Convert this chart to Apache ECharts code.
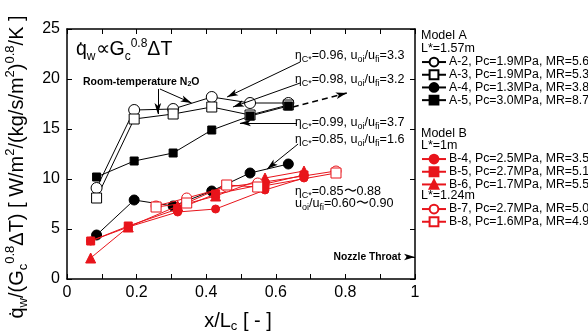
<!DOCTYPE html>
<html><head><meta charset="utf-8">
<script src="https://cdn.jsdelivr.net/npm/echarts@6/dist/echarts.min.js"></script>
<style>html,body{margin:0;padding:0;background:#fff}#c{width:588px;height:334px}</style>
</head><body><div id="c"></div>
<script>
// ---- data ----
const xA = [0.085, 0.193, 0.305, 0.416, 0.526, 0.636];
const A2 = [9.1, 16.9, 17.0, 18.2, 17.6, 17.6];
const A3 = [8.1, 16.0, 16.5, 17.2, 16.4, 17.4];
const A4 = [4.4, 7.9, 7.3, 8.8, 10.6, 11.5];
const A5 = [10.2, 11.8, 12.6, 14.9, 16.3, 17.3];
const xB1 = [0.068, 0.176, 0.318, 0.427, 0.569, 0.681];
const B4 = [3.8, 5.2, 6.7, 7.0, 8.9, 10.1];
const B5 = [3.8, 5.3, 7.0, 8.5, 9.5, 10.4];
const B6 = [2.1, 5.2, 7.3, 8.3, 10.1, 10.8];
const xB2 = [0.256, 0.344, 0.459, 0.548, 0.773];
const B7 = [7.3, 8.1, 9.2, 9.6, 10.8];
const B8 = [7.2, 7.6, 9.4, 9.2, 10.6];
const xTicks = [0, 0.2, 0.4, 0.6, 0.8, 1];
const yTicks = [0, 5, 10, 15, 20, 25];
const legendNames = {
  'A-2':'A-2, Pc=1.9MPa, MR=5.6','A-3':'A-3, Pc=1.9MPa, MR=5.3','A-4':'A-4, Pc=1.3MPa, MR=3.8','A-5':'A-5, Pc=3.0MPa, MR=8.7',
  'B-4':'B-4, Pc=2.5MPa, MR=3.5','B-5':'B-5, Pc=2.7MPa, MR=5.1','B-6':'B-6, Pc=1.7MPa, MR=5.5',
  'B-7':'B-7, Pc=2.7MPa, MR=5.0','B-8':'B-8, Pc=1.6MPa, MR=4.9'
};
// annotation arrows in data coordinates [x1,y1,x2,y2]
const arrows = [
  [0.670,21.7,0.460,18.2],
  [0.670,19.6,0.477,17.2],
  [0.661,15.6,0.497,15.6],
  [0.664,13.5,0.575,11.0],
  [0.261,19.0,0.261,16.5],
  [0.267,19.0,0.358,17.6],
  [0.975,2.2,1.0,2.2]
];
const dashedArrow = [0.649,17.2,0.804,18.6];

const RED = '#e8141b';
const FONT = 'Liberation Sans, Arial, sans-serif';
const pairs = (xs, ys) => xs.map((x,i)=>[x, ys[i]]);

function ser(key, xs, ys, color, symbol, size, filled) {
  return {
    name: legendNames[key], type: 'line', data: pairs(xs, ys),
    symbol: symbol, symbolSize: size, showAllSymbol: true,
    lineStyle: {color: color, width: 1},
    itemStyle: {color: filled ? color : '#fff', borderColor: color, borderWidth: 1},
    emphasis: {disabled: true}, z: color === RED ? 4 : 3
  };
}

const series = [
  ser('A-2', xA, A2, '#000', 'circle', 11, false),
  ser('A-3', xA, A3, '#000', 'rect', 10, false),
  ser('A-4', xA, A4, '#000', 'circle', 10, true),
  ser('A-5', xA, A5, '#000', 'rect', 8, true),
  ser('B-4', xB1, B4, RED, 'circle', 8, true),
  ser('B-5', xB1, B5, RED, 'rect', 8, true),
  ser('B-6', xB1, B6, RED, 'triangle', 10, true),
  ser('B-7', xB2, B7, RED, 'circle', 10, false),
  ser('B-8', xB2, B8, RED, 'rect', 10, false),
  {
    type: 'line', data: [], silent: true,
    markLine: {
      silent: true, animation: false, symbol: ['none','arrow'], symbolSize: [5,11],
      label: {show: false}, lineStyle: {color: '#000', width: 1, type: 'solid'},
      emphasis: {disabled: true},
      data: arrows.map(a => [{coord:[a[0],a[1]]},{coord:[a[2],a[3]]}]).concat([
        [{coord:[dashedArrow[0],dashedArrow[1]], lineStyle:{type:[6,4], width:1.5}},
         {coord:[dashedArrow[2],dashedArrow[3]]}]
      ])
    }
  }
];

const legendCommon = {
  orient: 'vertical', left: 421, padding: 0, itemWidth: 24, itemHeight: 11, itemGap: 0,
  textStyle: {fontFamily: FONT, fontSize: 12.3, color: '#000', lineHeight: 12.7, padding: [0,0,0,-2]},
  selectedMode: false
};

const tickAxisCommon = {
  axisLine: {show: true, onZero: false, lineStyle: {color: '#000', width: 1.5}},
  axisTick: {show: true, inside: true, length: 5, lineStyle: {color: '#000', width: 1}},
  splitLine: {show: false}
};

const rt = {
  n: {fontFamily: FONT, fontSize: 12.6, color: '#000', lineHeight: 16, verticalAlign: 'middle'},
  s: {fontFamily: FONT, fontSize: 9, color: '#000', lineHeight: 9, verticalAlign: 'bottom'},
  e: {fontFamily: FONT, fontSize: 12, color: '#000', lineHeight: 16, verticalAlign: 'middle'}
};
function etaText(x, y, c, u) {
  return {type:'text', x:x, y:y, style:{
    text: '{e|η}{s|C*}{n|=' + c + ', u}{s|oi}{n|/u}{s|fi}{n|=' + u + '}',
    rich: rt, verticalAlign: 'middle', align: 'left'}};
}

const option = {
  animation: false,
  backgroundColor: '#fff',
  grid: {left: 67, right: 173, top: 29, bottom: 55, containLabel: false},
  xAxis: [
    Object.assign({type:'value', min:0, max:1, interval:0.2, position:'bottom',
      axisLabel: {show:true, fontFamily: FONT, fontSize: 16, color:'#000', margin: 6,
        customValues: xTicks, formatter: v => String(v)},
      minorTick: {show:true, splitNumber:2, length:5, lineStyle:{color:'#000', width:1}}}, tickAxisCommon),
    Object.assign({type:'value', min:0, max:1, interval:0.2, position:'top',
      axisLabel: {show:false},
      minorTick: {show:true, splitNumber:2, length:5, lineStyle:{color:'#000', width:1}}}, tickAxisCommon)
  ],
  yAxis: [
    Object.assign({type:'value', min:0, max:25, interval:5, position:'left',
      axisLabel: {show:true, fontFamily: FONT, fontSize: 16, color:'#000', margin: 7,
        customValues: yTicks}}, tickAxisCommon),
    Object.assign({type:'value', min:0, max:25, interval:5, position:'right',
      axisLabel: {show:false}}, tickAxisCommon)
  ],
  legend: [
    Object.assign({top: 55.7, data: [legendNames['A-2'],legendNames['A-3'],legendNames['A-4'],legendNames['A-5']]}, legendCommon),
    Object.assign({top: 152.7, data: [legendNames['B-4'],legendNames['B-5'],legendNames['B-6']]}, legendCommon),
    Object.assign({top: 202.7, data: [legendNames['B-7'],legendNames['B-8']]}, legendCommon)
  ],
  series: series,
  graphic: [
    // y axis title (rotated)
    {type:'text', x: 17, y: 167, rotation: Math.PI/2, style: {
      text: '{n|q̇}{sub|w}{n|/(G}{sub|c}{sup|0.8}{n|ΔT) [ W/m}{sup|2}{n|/(kg/s/m}{sup|2}{n|)}{sup|0.8}{n|/K ]}',
      align: 'center', verticalAlign: 'middle',
      rich: {
        n: {fontFamily: FONT, fontSize: 20, color:'#000', lineHeight: 26, verticalAlign: 'middle'},
        sub: {fontFamily: FONT, fontSize: 13, color:'#000', lineHeight: 13, verticalAlign: 'bottom'},
        sup: {fontFamily: FONT, fontSize: 13, color:'#000', lineHeight: 13, verticalAlign: 'top'}
      }}},
    // x axis title
    {type:'text', x: 238, y: 321, style: {
      text: '{n|x/L}{sub|c}{n| [ - ]}', align:'center', verticalAlign:'middle',
      rich: {
        n: {fontFamily: FONT, fontSize: 20, color:'#000', lineHeight: 24, verticalAlign: 'middle'},
        sub: {fontFamily: FONT, fontSize: 13, color:'#000', lineHeight: 13, verticalAlign: 'bottom'}
      }}},
    // formula
    {type:'text', x: 76, y: 50, style: {
      text: '{n|q̇}{sub|w}{n|∝G}{sub|c}{sup|0.8}{n|ΔT}', align:'left', verticalAlign:'middle',
      rich: {
        n: {fontFamily: FONT, fontSize: 19.5, color:'#000', lineHeight: 25, verticalAlign: 'middle'},
        sub: {fontFamily: FONT, fontSize: 12, color:'#000', lineHeight: 12, verticalAlign: 'bottom'},
        sup: {fontFamily: FONT, fontSize: 12, color:'#000', lineHeight: 12, verticalAlign: 'top'}
      }}},
    {type:'text', x: 83, y: 82, style: {
      text: '{b|Room-temperature N}{s|2}{b|O}', align:'left', verticalAlign:'middle',
      rich: {
        b: {fontFamily: FONT, fontSize: 10.5, fontWeight:'bold', color:'#000', lineHeight: 12, verticalAlign:'middle'},
        s: {fontFamily: FONT, fontSize: 7, fontWeight:'bold', color:'#000', lineHeight: 7, verticalAlign:'bottom'}
      }}},
    etaText(295, 56, '0.96', '3.3'),
    etaText(295, 80, '0.98', '3.2'),
    etaText(295, 123, '0.99', '3.7'),
    etaText(295, 140, '0.85', '1.6'),
    {type:'text', x: 295, y: 192, style:{text:'{e|η}{s|C*}{n|=0.85〜0.88}', rich: rt, align:'left', verticalAlign:'middle'}},
    {type:'text', x: 295, y: 204, style:{text:'{n|u}{s|oi}{n|/u}{s|fi}{n|=0.60〜0.90}', rich: rt, align:'left', verticalAlign:'middle'}},
    {type:'text', x: 401, y: 257, style:{text:'Nozzle Throat', fontFamily: FONT, fontSize: 10.3, fontWeight:'bold', fill:'#000', align:'right', verticalAlign:'middle'}},
    // legend headers
    {type:'text', x: 421, y: 36, style:{text:'Model A', fontFamily: FONT, fontSize: 12.5, fill:'#000', verticalAlign:'middle'}},
    {type:'text', x: 421, y: 49, style:{text:'L*=1.57m', fontFamily: FONT, fontSize: 12.5, fill:'#000', verticalAlign:'middle'}},
    {type:'text', x: 421, y: 134, style:{text:'Model B', fontFamily: FONT, fontSize: 12.5, fill:'#000', verticalAlign:'middle'}},
    {type:'text', x: 421, y: 146, style:{text:'L*=1m', fontFamily: FONT, fontSize: 12.5, fill:'#000', verticalAlign:'middle'}},
    {type:'text', x: 421, y: 196, style:{text:'L*=1.24m', fontFamily: FONT, fontSize: 12.5, fill:'#000', verticalAlign:'middle'}}
  ]
};
const chart = echarts.init(document.getElementById('c'), null, {renderer:'canvas'});
chart.setOption(option);
</script></body></html>
